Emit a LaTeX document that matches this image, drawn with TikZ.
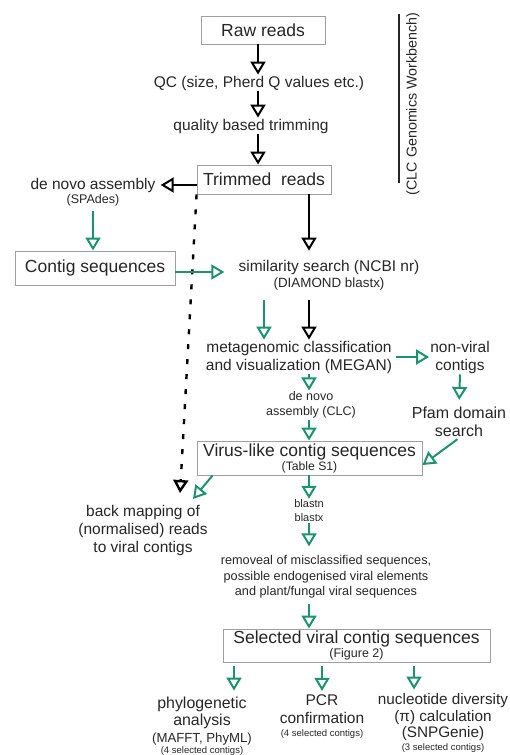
\documentclass[tikz,border=0pt]{standalone}
\usepackage{fontspec}
\setmainfont{Liberation Sans}
\usetikzlibrary{arrows.meta}
\definecolor{arrgreen}{RGB}{25,150,105}

\begin{document}
\begin{tikzpicture}[x=1pt,y=-1pt,text=black!85,
  box/.style={draw=gray!75,line width=0.9pt,inner sep=1pt,align=center,font=\fontsize{17.5}{19}\selectfont},
  lbl/.style={inner sep=1pt,align=center,font=\fontsize{15.5}{18}\selectfont},
  sub/.style={inner sep=1pt,align=center,font=\fontsize{12.5}{15}\selectfont},
  blk/.style={line width=2pt,-{Triangle[open,width=15pt,length=13pt]}},
  grn/.style={blk,draw=arrgreen}]

  \useasboundingbox (0,0) rectangle (509,755);

  % arrow columns
  \coordinate (colA) at (258,0);
  \coordinate (colG) at (264,0);
  \coordinate (colB) at (309,0);
  \coordinate (colP) at (234,0);
  \coordinate (colQ) at (322,0);
  \coordinate (colN) at (414,0);

  \node[box,minimum width=124pt,minimum height=28pt] (raw) at (263,30) {Raw reads};
  \node[lbl] (qc) at (259,83) {QC (size, Pherd Q values etc.)};
  \node[lbl] (trim) at (251,126) {quality based trimming};
  \node[box,minimum width=134pt,minimum height=29pt] (treads) at (264,179.5) {Trimmed\ \ reads};

  \coordinate (clctop) at (399,14);
  \coordinate (clcbot) at (399,183);
  \draw[line width=1.6pt,black!85] (clctop) -- (clcbot);
  \node[lbl,font=\fontsize{14.3}{16}\selectfont,rotate=90] (clc) at (413,104) {(CLC Genomics Workbench)};

  \node[lbl] (denovo) at (93,185) {de novo assembly};
  \node[sub] (spades) at (93,200) {(SPAdes)};
  \node[box,minimum width=160pt,minimum height=34pt] (contig) at (95,268) {Contig sequences};
  \node[lbl] (sim) at (329,267) {similarity search (NCBI nr)};
  \node[sub,font=\fontsize{13.4}{15}\selectfont] (diamond) at (329,284) {(DIAMOND blastx)};
  \node[lbl] (megan) at (299,357) {metagenomic classification\\and visualization (MEGAN)};
  \node[lbl] (nonviral) at (460,357) {non-viral\\contigs};
  \node[sub] (clcasm) at (311,405) {de novo\\assembly (CLC)};
  \node[lbl,font=\fontsize{16}{18}\selectfont] (pfam) at (459,422) {Pfam domain\\search};
  \node[box,minimum width=225pt,minimum height=34pt] (virus) at (309.5,458) {Virus-like contig sequences\\[-5pt]{\fontsize{12.2}{14}\selectfont(Table S1)}};
  \node[lbl] (backmap) at (143,530) {back mapping of\\(normalised) reads\\to viral contigs};
  \node[sub,font=\fontsize{11}{14}\selectfont] (blast) at (309,511) {blastn\\blastx};
  \node[sub,font=\fontsize{12.7}{15.5}\selectfont] (removal) at (326,577) {removeal of misclassified sequences,\\possible endogenised viral elements\\and plant/fungal viral sequences};
  \node[box,minimum width=267pt,minimum height=33pt] (selected) at (356.5,645.5) {Selected viral contig sequences\\[-5pt]{\fontsize{12.5}{14}\selectfont(Figure 2)}};

  \node[lbl,font=\fontsize{15.9}{17}\selectfont] (phylo) at (202,726) {phylogenetic\\analysis\\{\fontsize{13.2}{15}\selectfont(MAFFT, PhyML)}\\[-6pt]{\fontsize{9.5}{11}\selectfont(4 selected contigs)}};
  \node[lbl] (pcr) at (322,717) {PCR\\confirmation\\[-5pt]{\fontsize{9.5}{11}\selectfont(4 selected contigs)}};
  \node[lbl,font=\fontsize{15.3}{16.5}\selectfont] (nucdiv) at (443,723) {nucleotide diversity\\(π) calculation\\(SNPGenie)\\[-4pt]{\fontsize{9.5}{11}\selectfont(3 selected contigs)}};

  % free ends
  \coordinate (bmtip) at (180,494);
  \coordinate (bmgreen) at (193,499);

  \draw[blk] (raw.south -| colA) -- (qc.north -| colA);
  \draw[blk] (qc.south -| colA) -- (trim.north -| colA);
  \draw[blk] (trim.south -| colA) -- (treads.north -| colA);
  \draw[blk,shorten >=4pt] (treads.west |- denovo) -- (denovo.east);
  \draw[blk,shorten >=8pt] (treads.south -| colB) -- (sim.north -| colB);
  \draw[blk,line width=2.4pt,dash pattern=on 5pt off 10pt,shorten >=1pt] (treads.south west) -- (bmtip);

  \draw[grn,shorten <=4pt] (spades.south) -- (spades.south |- contig.north);
  \draw[grn,shorten >=13pt] ([yshift=-4pt]contig.east) -- ([yshift=-4pt]contig.east -| sim.west);
  \draw[grn,shorten <=9pt] (diamond.south -| colG) -- (megan.north -| colG);
  \draw[blk,shorten <=9pt] (diamond.south -| colB) -- (megan.north -| colB);
  \draw[grn,shorten <=3pt] (megan.east) -- (nonviral.west);
  \draw[grn,shorten >=6pt] (nonviral.south) -- (pfam.north);
  \draw[grn] (megan.south -| colB) -- (clcasm.north -| colB);
  \draw[grn] (clcasm.south -| colB) -- (virus.north -| colB);
  \draw[grn,shorten <=2pt] (pfam.south) -- ([yshift=-7pt]virus.east);
  \draw[grn] ([xshift=16pt]virus.south west) -- (bmgreen);
  \draw[grn] (virus.south -| colB) -- (blast.north -| colB);
  \draw[grn,shorten >=8pt] (blast.south -| colB) -- (removal.north -| colB);
  \draw[grn,shorten <=4pt] (removal.south -| colB) -- (selected.north -| colB);
  \draw[grn,shorten <=4pt,shorten >=5pt] (selected.south -| colP) -- (phylo.north -| colP);
  \draw[grn,shorten <=4pt,shorten >=3pt] (selected.south -| colQ) -- (pcr.north -| colQ);
  \draw[grn,shorten <=4pt,shorten >=3pt] (selected.south -| colN) -- (nucdiv.north -| colN);
\end{tikzpicture}
\end{document}
